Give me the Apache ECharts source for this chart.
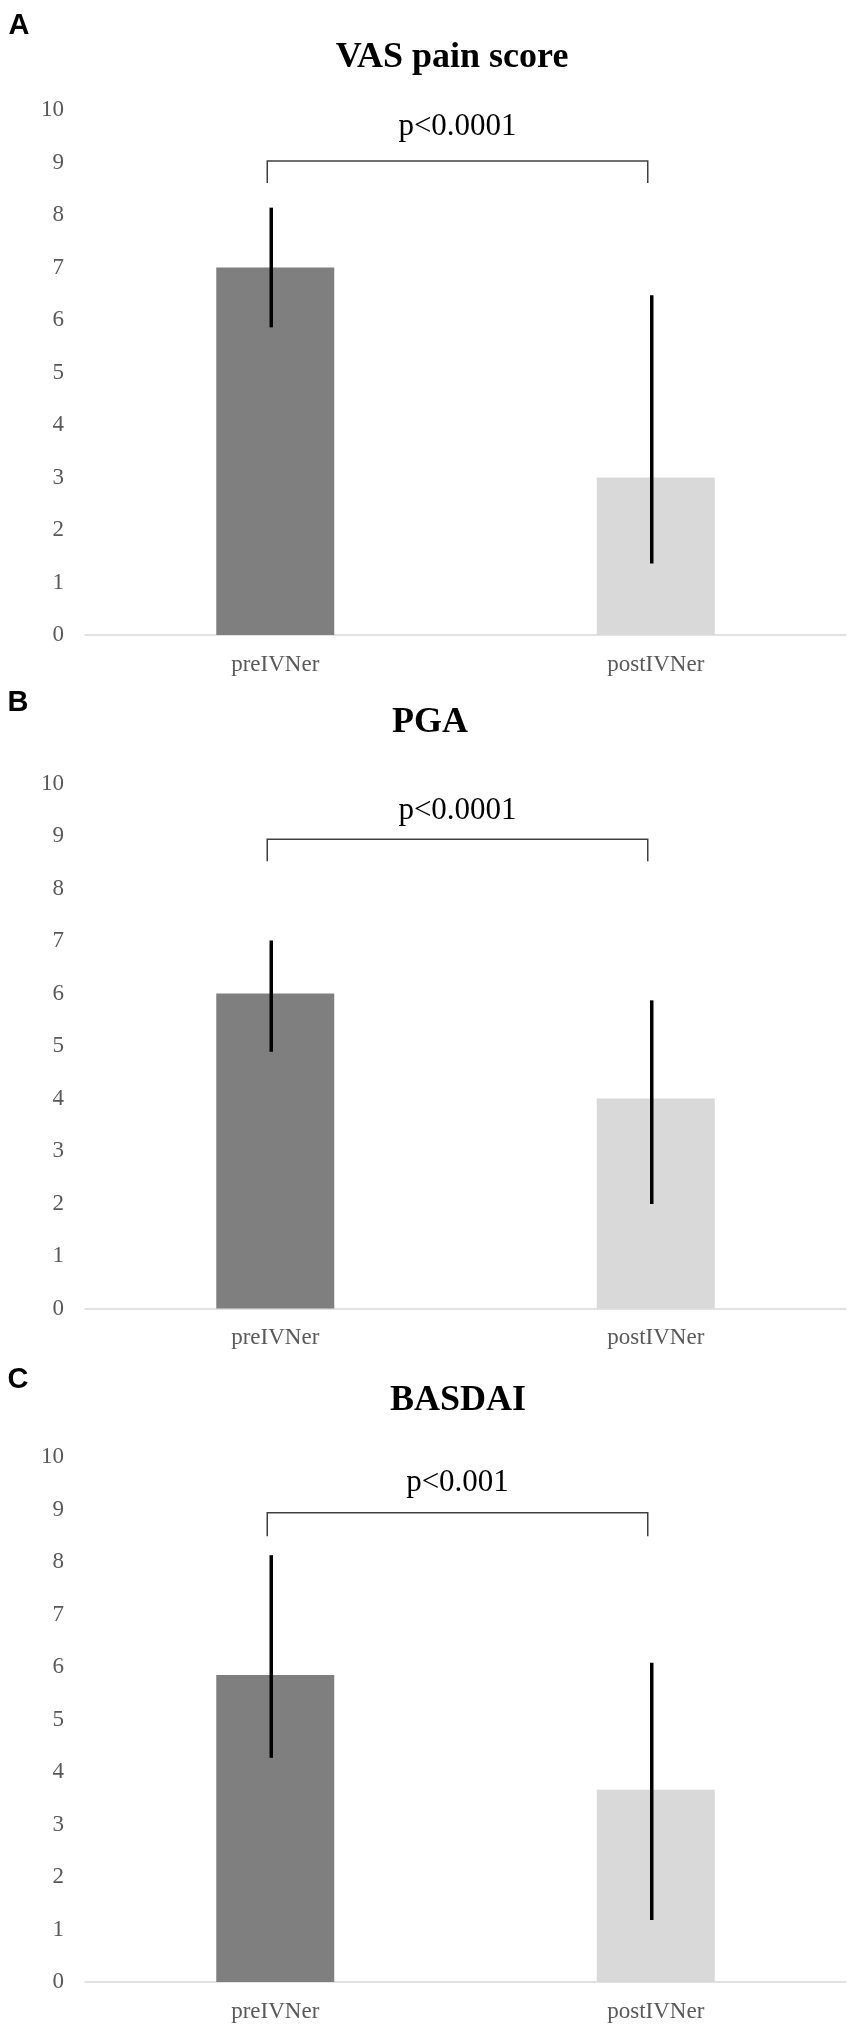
<!DOCTYPE html>
<html>
<head>
<meta charset="utf-8">
<script src="https://cdn.jsdelivr.net/npm/echarts@6/dist/echarts.min.js"></script>
<style>
html,body{margin:0;padding:0;background:#fff;}
#chart{width:851px;height:2030px;}
</style>
</head>
<body>
<div id="chart"></div>
<script>
// ---- data ----
const categories = ['preIVNer', 'postIVNer'];
const panelLetters = ['A', 'B', 'C'];
const panelTitles = ['VAS pain score', 'PGA', 'BASDAI'];
const yTickMin = 0, yTickMax = 10, yTickStep = 1;

const meanVAS = [7, 3];
const meanPGA = [6, 4];
const meanBASDAI = [5.85, 3.66];

// error bars [low, high]
const errVAS = [[5.86, 8.14], [1.36, 6.47]];
const errPGA = [[4.89, 7.01], [1.99, 5.87]];
const errBASDAI = [[4.27, 8.13], [1.18, 6.08]];

const pLabels = ['p<0.0001', 'p<0.0001', 'p<0.001'];
const bracketTop = [9.03, 8.94, 8.94];
const bracketLeg = [8.61, 8.52, 8.49];
const pTextLevel = [9.67, 9.48, 9.50];

// ---- layout / style ----
const means = [meanVAS, meanPGA, meanBASDAI];
const errs = [errVAS, errPGA, errBASDAI];
const gridTops = [110, 783.5, 1457];
const gridH = 525;
const titlePos = [[452, 58], [430, 723], [458, 1401]];
const letterPos = [[19, 26], [18, 703], [18, 1380]];
const barColors = ['#7f7f7f', '#d9d9d9'];
const serif = '"Liberation Serif", "Times New Roman", serif';
const sans = '"Liberation Sans", Arial, sans-serif';
const errOffset = -4;
const bracketOffset = -8;

const grids = [], xAxes = [], yAxes = [], series = [], graphics = [];

for (let i = 0; i < 3; i++) {
  grids.push({ left: 85, right: 5, top: gridTops[i], height: gridH, containLabel: false });
  xAxes.push({
    type: 'category', gridIndex: i, data: categories,
    axisLine: { lineStyle: { color: '#d9d9d9', width: 1.5 } },
    axisTick: { show: false },
    axisLabel: { color: '#595959', fontFamily: serif, fontSize: 23, lineHeight: 23, margin: 18 },
    splitLine: { show: false }
  });
  yAxes.push({
    type: 'value', gridIndex: i, min: yTickMin, max: yTickMax, interval: yTickStep,
    axisLine: { show: false }, axisTick: { show: false },
    splitLine: { show: false },
    axisLabel: { color: '#595959', fontFamily: serif, fontSize: 23, lineHeight: 23, margin: 21 }
  });
  series.push({
    type: 'bar', xAxisIndex: i, yAxisIndex: i, barWidth: 118,
    data: means[i].map((v, k) => ({ value: v, itemStyle: { color: barColors[k] } })),
    silent: true, z: 2
  });
  series.push({
    type: 'custom', xAxisIndex: i, yAxisIndex: i, z: 5, silent: true,
    data: errs[i].map((e, k) => [k, e[0], e[1]]),
    renderItem: function (params, api) {
      const lo = api.coord([api.value(0), api.value(1)]);
      const hi = api.coord([api.value(0), api.value(2)]);
      return {
        type: 'line',
        shape: { x1: lo[0] + errOffset, y1: lo[1], x2: hi[0] + errOffset, y2: hi[1] },
        style: { stroke: '#000', lineWidth: 3.5 }
      };
    }
  });
  const idx = i;
  series.push({
    type: 'custom', xAxisIndex: i, yAxisIndex: i, z: 5, silent: true, clip: false,
    data: [[0, 1, bracketTop[i], bracketLeg[i], pTextLevel[i]]],
    renderItem: function (params, api) {
      const a = api.coord([api.value(0), api.value(2)]);
      const b = api.coord([api.value(1), api.value(2)]);
      const leg = api.coord([api.value(0), api.value(3)]);
      const t = api.coord([api.value(0), api.value(4)]);
      const x0 = a[0] + bracketOffset, x1 = b[0] + bracketOffset;
      return {
        type: 'group',
        children: [
          {
            type: 'polyline',
            shape: { points: [[x0, leg[1]], [x0, a[1]], [x1, a[1]], [x1, leg[1]]] },
            style: { stroke: '#404040', lineWidth: 1.5, fill: null }
          },
          {
            type: 'text',
            x: (x0 + x1) / 2, y: t[1],
            style: {
              text: pLabels[idx], fill: '#000', font: '31px ' + serif,
              align: 'center', verticalAlign: 'middle'
            }
          }
        ]
      };
    }
  });
  graphics.push({
    type: 'text', x: titlePos[i][0], y: titlePos[i][1],
    style: { text: panelTitles[i], fill: '#000', font: 'bold 36px ' + serif, align: 'center', verticalAlign: 'middle' }
  });
  graphics.push({
    type: 'text', x: letterPos[i][0], y: letterPos[i][1],
    style: { text: panelLetters[i], fill: '#000', font: 'bold 29px ' + sans, align: 'center', verticalAlign: 'middle' }
  });
}

const chart = echarts.init(document.getElementById('chart'), null, { renderer: 'canvas' });
chart.setOption({
  animation: false,
  backgroundColor: '#fff',
  grid: grids, xAxis: xAxes, yAxis: yAxes, series: series, graphic: graphics
});
</script>
</body>
</html>
